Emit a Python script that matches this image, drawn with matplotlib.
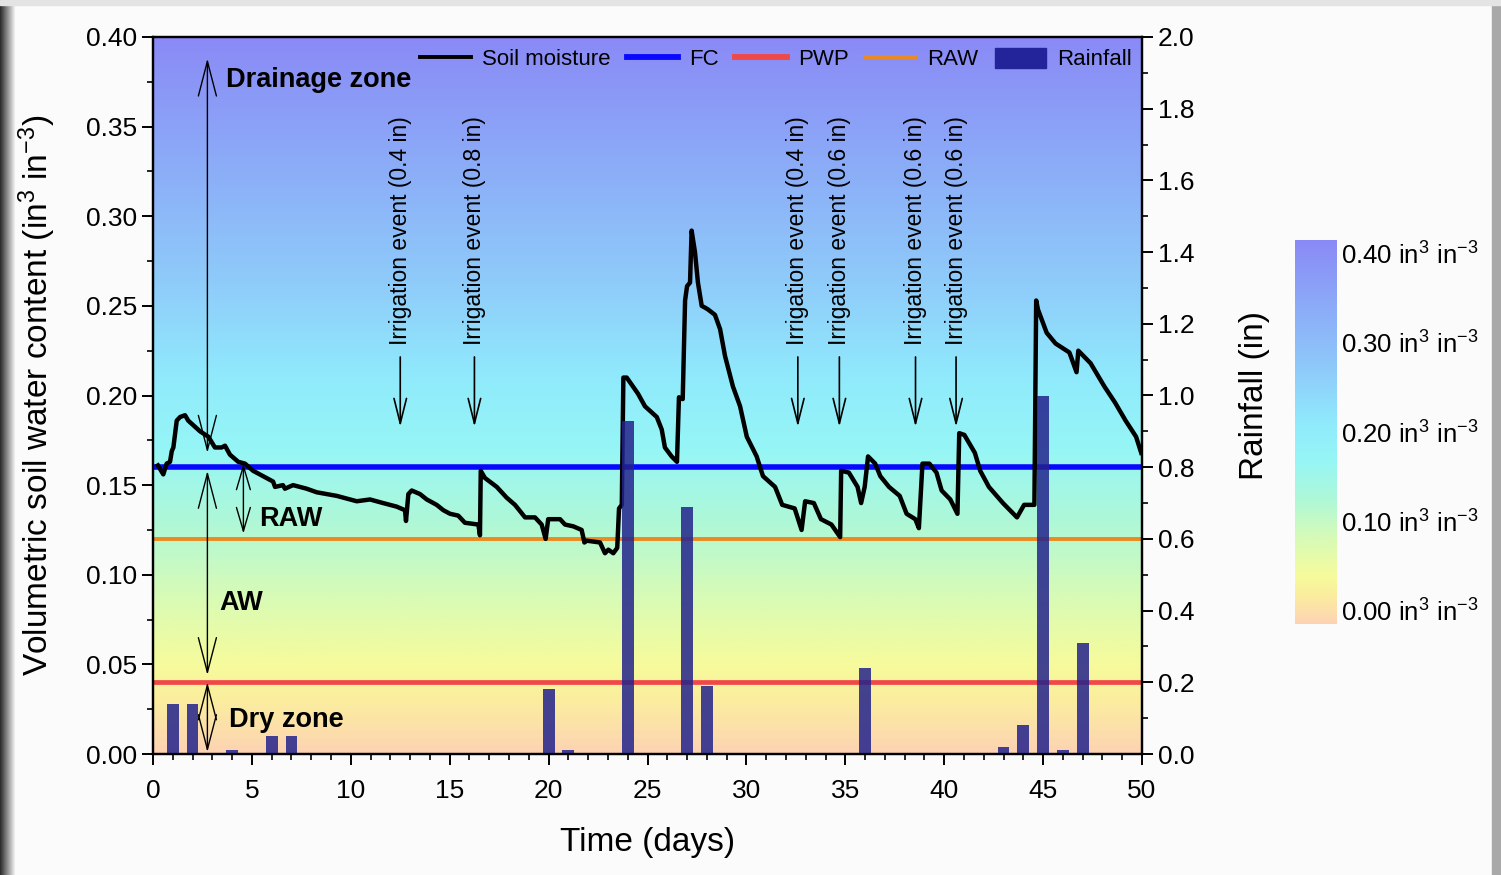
import numpy as np
import matplotlib
matplotlib.use('Agg')
import matplotlib.pyplot as plt
from matplotlib.colors import LinearSegmentedColormap
from matplotlib.lines import Line2D
from matplotlib.patches import Patch, Rectangle
from matplotlib.ticker import MultipleLocator, FormatStrFormatter

plt.rcParams['font.family'] = ['Liberation Sans', 'DejaVu Sans']
plt.rcParams['mathtext.default'] = 'regular'

# soil moisture sensor record
sm_day = [0.25, 0.52, 0.69, 0.86, 0.95, 1.03, 1.20, 1.37, 1.62, 1.78, 2.38, 2.80, 3.13,
          3.47, 3.64, 3.89, 4.31, 4.65, 5.06, 5.56, 6.07, 6.17, 6.57, 6.67, 7.08, 7.77,
          8.28, 9.29, 10.30, 10.97, 11.63, 12.32, 12.74, 12.79, 12.91, 13.08, 13.50,
          13.84, 14.34, 14.68, 15.02, 15.43, 15.77, 16.45, 16.53, 16.57, 16.78, 17.38,
          17.88, 18.30, 18.81, 19.31, 19.65, 19.85, 19.98, 20.58, 20.83, 21.25, 21.67,
          21.81, 21.93, 22.60, 22.85, 23.02, 23.27, 23.47, 23.56, 23.70, 23.78, 23.95,
          24.52, 24.87, 25.47, 25.72, 25.88, 26.22, 26.49, 26.59, 26.78, 26.90, 27.00,
          27.15, 27.23, 27.40, 27.55, 27.74, 27.91, 28.06, 28.41, 28.67, 28.92, 29.32,
          29.68, 30.02, 30.52, 30.69, 30.84, 31.45, 31.81, 32.44, 32.79, 32.97, 33.41,
          33.77, 34.30, 34.74, 34.79, 35.18, 35.62, 35.80, 35.98, 36.15, 36.51, 36.77,
          37.21, 37.75, 38.10, 38.54, 38.72, 38.90, 39.25, 39.61, 39.87, 40.31, 40.67,
          40.76, 41.02, 41.55, 41.82, 42.26, 42.97, 43.68, 44.04, 44.56, 44.65, 44.74,
          45.18, 45.63, 46.33, 46.69, 46.78, 47.40, 48.10, 48.64, 49.17, 49.70, 49.96]
sm_vwc = [0.161, 0.156, 0.162, 0.163, 0.169, 0.171, 0.186, 0.188, 0.189, 0.186, 0.180,
          0.177, 0.171, 0.171, 0.172, 0.167, 0.163, 0.162, 0.158, 0.155, 0.152, 0.149,
          0.150, 0.148, 0.150, 0.148, 0.146, 0.144, 0.141, 0.142, 0.140, 0.138, 0.136,
          0.130, 0.145, 0.147, 0.145, 0.142, 0.139, 0.136, 0.134, 0.133, 0.129, 0.128,
          0.122, 0.158, 0.154, 0.149, 0.143, 0.139, 0.132, 0.132, 0.128, 0.120, 0.131,
          0.131, 0.128, 0.127, 0.125, 0.118, 0.119, 0.118, 0.112, 0.114, 0.112, 0.115,
          0.137, 0.139, 0.210, 0.210, 0.201, 0.194, 0.188, 0.181, 0.171, 0.166, 0.163,
          0.199, 0.198, 0.253, 0.261, 0.263, 0.292, 0.280, 0.263, 0.250, 0.249, 0.248,
          0.245, 0.237, 0.222, 0.205, 0.194, 0.177, 0.166, 0.160, 0.155, 0.149, 0.139,
          0.137, 0.125, 0.141, 0.140, 0.131, 0.128, 0.121, 0.158, 0.157, 0.149, 0.140,
          0.149, 0.166, 0.162, 0.155, 0.149, 0.144, 0.134, 0.131, 0.126, 0.162, 0.162,
          0.157, 0.147, 0.142, 0.134, 0.179, 0.178, 0.168, 0.158, 0.149, 0.140, 0.132,
          0.139, 0.139, 0.253, 0.248, 0.235, 0.229, 0.224, 0.213, 0.225, 0.218, 0.205,
          0.196, 0.186, 0.177, 0.168]

# daily rainfall
rain_day = [1, 2, 4, 6, 7, 20, 21, 24, 27, 28, 36, 43, 44, 45, 46, 47]
rain_in = [0.14, 0.14, 0.01, 0.05, 0.05, 0.18, 0.01, 0.93, 0.69, 0.19, 0.24,
           0.02, 0.08, 1.00, 0.01, 0.31]

# soil water thresholds
fc = 0.16
raw = 0.12
pwp = 0.04

irr_day = [12.5, 16.25, 32.6, 34.7, 38.55, 40.6]
irr_depth = ['0.4', '0.8', '0.4', '0.6', '0.6', '0.6']

cbar_ticks = [0.0, 0.1, 0.2, 0.3, 0.4]

zone_cmap = LinearSegmentedColormap.from_list('zones', [
    (0.000, '#fdd3b3'), (0.075, '#fbee9e'), (0.125, '#f6fb9c'), (0.225, '#d6fbb8'),
    (0.325, '#aef8d8'), (0.425, '#96f6f6'), (0.525, '#90eafc'), (0.650, '#8fcdfa'),
    (0.800, '#8cb0f8'), (1.000, '#8a8af6')])
grad = np.linspace(0, 1, 512).reshape(-1, 1)

fig = plt.figure(figsize=(15.01, 8.75), dpi=100)
fig.patch.set_facecolor('#fbfbfb')

# grey frame around the page
shade = fig.add_axes([0, 0, 16 / 1501, 1], zorder=-5)
shade.imshow(np.linspace(0, 1, 64).reshape(1, -1), cmap='gray', vmin=-0.2, vmax=1.0,
             aspect='auto', extent=[0, 1, 0, 1])
shade.axis('off')
fig.patches.append(Rectangle((1492 / 1501, 0), 9 / 1501, 1, transform=fig.transFigure,
                             color='#a9a9a9', zorder=-5))
fig.patches.append(Rectangle((0, 870 / 875), 1, 5 / 875, transform=fig.transFigure,
                             color='#e4e4e4', zorder=-5))

ax = fig.add_axes([153 / 1501, 121 / 875, 989 / 1501, 717 / 875])
ax.imshow(grad, extent=[0, 50, 0, 0.4], origin='lower', aspect='auto',
          cmap=zone_cmap, zorder=0)
ax.set_xlim(0, 50)
ax.set_ylim(0, 0.4)

ax.axhline(fc, color='#0808ff', lw=4.0, zorder=2)
ax.axhline(raw, color='#ea8a20', lw=2.8, zorder=2)
ax.axhline(pwp, color='#f04848', lw=3.4, zorder=2)
ax.plot(sm_day, sm_vwc, color='k', lw=3.2, zorder=3, solid_joinstyle='round')

# zone arrows
big = dict(arrowstyle='<->,head_length=2.5,head_width=0.65', lw=1.0, color='k',
           shrinkA=0, shrinkB=0, mutation_scale=10)
small = dict(arrowstyle='<->,head_length=1.7,head_width=0.5', lw=1.0, color='k',
             shrinkA=0, shrinkB=0, mutation_scale=10)
ax.annotate('', xy=(2.75, 0.388), xytext=(2.75, 0.168), arrowprops=big, zorder=4)
ax.annotate('', xy=(2.75, 0.158), xytext=(2.75, 0.044), arrowprops=big, zorder=4)
ax.annotate('', xy=(2.75, 0.040), xytext=(2.75, 0.001), arrowprops=big, zorder=4)
ax.annotate('', xy=(4.57, 0.162), xytext=(4.57, 0.123), arrowprops=small, zorder=4)

bold = dict(fontsize=19.5, fontweight='bold', va='center', ha='left', zorder=4)
ax.text(3.69, 0.376, 'Drainage zone', **bold)
ax.text(5.36, 0.131, 'RAW', **bold)
ax.text(3.34, 0.0845, 'AW', **bold)
ax.text(3.84, 0.019, 'Dry zone', **bold)

for d, dep in zip(irr_day, irr_depth):
    ax.text(d, 0.228, f'Irrigation event ({dep} in)', rotation=90, ha='center',
            va='bottom', fontsize=16.5, zorder=4)
    ax.annotate('', xy=(d, 0.1825), xytext=(d, 0.2215), zorder=4,
                arrowprops=dict(arrowstyle='->,head_length=1.8,head_width=0.45',
                                lw=1.2, color='k', shrinkA=0, shrinkB=0,
                                mutation_scale=10))

ax2 = ax.twinx()
ax2.bar(rain_day, rain_in, width=0.6, color='#23238c', alpha=0.85, zorder=2)
ax2.set_ylim(0, 2.0)

ax.xaxis.set_major_locator(MultipleLocator(5))
ax.xaxis.set_minor_locator(MultipleLocator(1))
ax.yaxis.set_major_locator(MultipleLocator(0.05))
ax.yaxis.set_minor_locator(MultipleLocator(0.025))
ax.yaxis.set_major_formatter(FormatStrFormatter('%.2f'))
ax2.yaxis.set_major_locator(MultipleLocator(0.2))
ax2.yaxis.set_minor_locator(MultipleLocator(0.1))
ax2.yaxis.set_major_formatter(FormatStrFormatter('%.1f'))

for a in (ax, ax2):
    a.tick_params(which='major', direction='out', length=8, width=1.4, labelsize=19)
    a.tick_params(which='minor', direction='out', length=4.5, width=1.2)
    for s in a.spines.values():
        s.set_linewidth(1.6)
ax.tick_params(axis='x', pad=10)

ax.set_xlabel('Time (days)', fontsize=24, labelpad=17)
ax.set_ylabel('Volumetric soil water content (in$^3$ in$^{-3}$)', fontsize=24, labelpad=20)
ax2.set_ylabel('Rainfall (in)', fontsize=24, labelpad=32)

handles = [Line2D([], [], color='k', lw=2.8), Line2D([], [], color='#0808ff', lw=4.2),
           Line2D([], [], color='#f04848', lw=4.2), Line2D([], [], color='#ea8a20', lw=2.8),
           Patch(color='#23239a')]
ax2.legend(handles, ['Soil moisture', 'FC', 'PWP', 'RAW', 'Rainfall'], ncol=5,
           loc='upper right', bbox_to_anchor=(0.99, 0.985), frameon=False, fontsize=16,
           handlelength=2.3, handleheight=1.0, handletextpad=0.5, columnspacing=0.75,
           borderaxespad=0, borderpad=0)

# colour key for the background shading
cax = fig.add_axes([1295 / 1501, 251 / 875, 42 / 1501, 384 / 875])
cax.imshow(grad, extent=[0, 1, -0.015, 0.415], origin='lower', aspect='auto',
           cmap=zone_cmap)
cax.set_xlim(0, 1)
cax.set_ylim(-0.015, 0.415)
cax.set_xticks([])
cax.yaxis.tick_right()
cax.set_yticks(cbar_ticks)
cax.set_yticklabels([f'{v:.2f} in$^3$ in$^{{-3}}$' for v in cbar_ticks])
cax.tick_params(length=0, labelsize=18.5, pad=3)
for s in cax.spines.values():
    s.set_visible(False)

fig.savefig('out.png', dpi=100, facecolor=fig.get_facecolor())
